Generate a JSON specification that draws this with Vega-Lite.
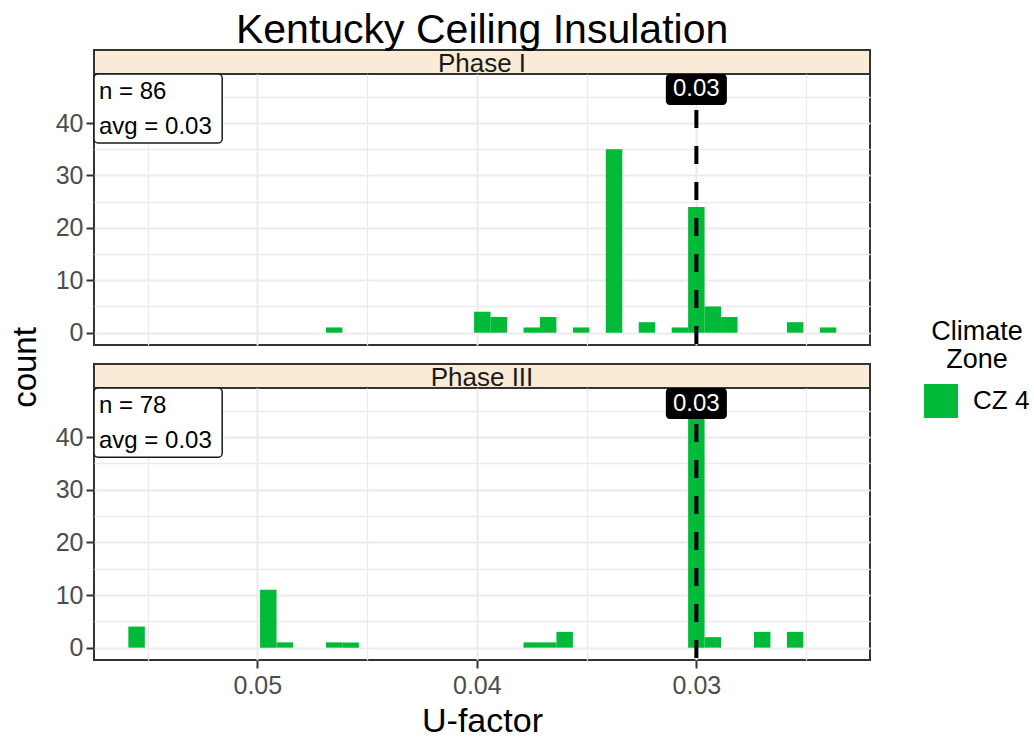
{
  "$schema": "https://vega.github.io/schema/vega-lite/v6.json",
  "padding": {"left": 8, "top": 10, "right": 0, "bottom": 0},
  "background": "white",
  "title": {"text": "Kentucky Ceiling Insulation", "fontSize": 41, "fontWeight": "normal", "font": "Liberation Sans", "color": "black", "anchor": "middle", "offset": -3, "dx": -37},
  "bounds": "flush",
  "spacing": 0,
  "datasets": {
    "bins": [
      {"phase": "Phase I", "zone": "CZ 4", "lo": 0.046125, "hi": 0.046875, "count": 1},
      {"phase": "Phase I", "zone": "CZ 4", "lo": 0.039375, "hi": 0.040125, "count": 4},
      {"phase": "Phase I", "zone": "CZ 4", "lo": 0.038625, "hi": 0.039375, "count": 3},
      {"phase": "Phase I", "zone": "CZ 4", "lo": 0.037125, "hi": 0.037875, "count": 1},
      {"phase": "Phase I", "zone": "CZ 4", "lo": 0.036375, "hi": 0.037125, "count": 3},
      {"phase": "Phase I", "zone": "CZ 4", "lo": 0.034875, "hi": 0.035625, "count": 1},
      {"phase": "Phase I", "zone": "CZ 4", "lo": 0.033375, "hi": 0.034125, "count": 35},
      {"phase": "Phase I", "zone": "CZ 4", "lo": 0.031875, "hi": 0.032625, "count": 2},
      {"phase": "Phase I", "zone": "CZ 4", "lo": 0.030375, "hi": 0.031125, "count": 1},
      {"phase": "Phase I", "zone": "CZ 4", "lo": 0.029625, "hi": 0.030375, "count": 24},
      {"phase": "Phase I", "zone": "CZ 4", "lo": 0.028875, "hi": 0.029625, "count": 5},
      {"phase": "Phase I", "zone": "CZ 4", "lo": 0.028125, "hi": 0.028875, "count": 3},
      {"phase": "Phase I", "zone": "CZ 4", "lo": 0.025125, "hi": 0.025875, "count": 2},
      {"phase": "Phase I", "zone": "CZ 4", "lo": 0.023625, "hi": 0.024375, "count": 1},
      {"phase": "Phase III", "zone": "CZ 4", "lo": 0.055125, "hi": 0.055875, "count": 4},
      {"phase": "Phase III", "zone": "CZ 4", "lo": 0.049125, "hi": 0.049875, "count": 11},
      {"phase": "Phase III", "zone": "CZ 4", "lo": 0.048375, "hi": 0.049125, "count": 1},
      {"phase": "Phase III", "zone": "CZ 4", "lo": 0.046125, "hi": 0.046875, "count": 1},
      {"phase": "Phase III", "zone": "CZ 4", "lo": 0.045375, "hi": 0.046125, "count": 1},
      {"phase": "Phase III", "zone": "CZ 4", "lo": 0.037125, "hi": 0.037875, "count": 1},
      {"phase": "Phase III", "zone": "CZ 4", "lo": 0.036375, "hi": 0.037125, "count": 1},
      {"phase": "Phase III", "zone": "CZ 4", "lo": 0.035625, "hi": 0.036375, "count": 3},
      {"phase": "Phase III", "zone": "CZ 4", "lo": 0.029625, "hi": 0.030375, "count": 47},
      {"phase": "Phase III", "zone": "CZ 4", "lo": 0.028875, "hi": 0.029625, "count": 2},
      {"phase": "Phase III", "zone": "CZ 4", "lo": 0.026625, "hi": 0.027375, "count": 3},
      {"phase": "Phase III", "zone": "CZ 4", "lo": 0.025125, "hi": 0.025875, "count": 3}
    ],
    "stats": [
      {"phase": "Phase I", "n": 86, "avg": 0.0327, "code": 0.03, "label": "n = 86\navg = 0.03"},
      {"phase": "Phase III", "n": 78, "avg": 0.0348, "code": 0.03, "label": "n = 78\navg = 0.03"}
    ]
  },
  "vconcat": [
    {
      "width": 776, "height": 24,
      "view": {"fill": "#FAEBD7", "stroke": "#333333", "strokeWidth": 2},
      "data": {"name": "stats"},
      "transform": [{"filter": "datum.phase === 'Phase I'"}],
      "mark": {"type": "text", "fontSize": 26, "font": "Liberation Sans", "color": "#1A1A1A", "baseline": "alphabetic", "dy": 10},
      "encoding": {"text": {"field": "phase"}}
    },
    {
      "width": 776, "height": 271,
      "view": {"stroke": "#333333", "strokeWidth": 2},
      "resolve": {"axis": {"x": "independent", "y": "independent"}},
      "layer": [
        {
          "data": {"name": "bins"},
          "transform": [{"filter": "datum.phase === 'Phase I'"}],
          "mark": {"type": "rect", "color": "#00BA38"},
          "encoding": {
            "x": {"field": "lo", "type": "quantitative", "scale": {"domain": [0.02209, 0.05744], "reverse": true, "nice": false, "zero": false},
                  "axis": {"values": [0.05, 0.04, 0.03], "grid": true, "gridColor": "#EBEBEB", "gridWidth": 2, "labels": false, "ticks": false, "domain": false, "title": null}},
            "x2": {"field": "hi"},
            "y": {"field": "count", "type": "quantitative", "scale": {"domain": [-2.35, 49.35], "nice": false, "zero": false},
                  "axis": {"values": [0, 10, 20, 30, 40], "grid": true, "gridColor": "#EBEBEB", "gridWidth": 2, "domain": false, "tickColor": "#333333", "tickWidth": 2, "tickSize": 8, "labelFontSize": 25, "labelColor": "#4D4D4D", "labelPadding": 3, "title": "count", "titleY": 293, "titleFontSize": 33, "titleFontWeight": "normal", "titleColor": "black", "titlePadding": 13}},
            "y2": {"datum": 0},
            "color": {"field": "zone", "type": "nominal", "scale": {"domain": ["CZ 4"], "range": ["#00BA38"]},
                      "legend": {"title": ["Climate", "Zone"], "orient": "none", "legendX": 830, "legendY": 269, "symbolType": "square", "symbolSize": 1156, "symbolStrokeWidth": 0, "symbolOpacity": 1, "labelFontSize": 26, "labelColor": "black", "titleFontSize": 27, "titleFontWeight": "normal", "titleColor": "black", "titleAlign": "center", "titleAnchor": "middle", "titleLineHeight": 28, "titlePadding": 10, "labelOffset": 15}}
          }
        },
        {
          "data": {"name": "stats"},
          "transform": [{"filter": "datum.phase === 'Phase I'"}],
          "mark": {"type": "rule", "strokeDash": [18, 18], "strokeWidth": 4, "color": "black"},
          "encoding": {
            "x": {"field": "code", "type": "quantitative", "scale": {"domain": [0.02209, 0.05744], "reverse": true, "nice": false, "zero": false},
                  "axis": {"orient": "top", "values": [0.055, 0.045, 0.035, 0.025], "grid": true, "gridColor": "#EBEBEB", "gridWidth": 1.3, "labels": false, "ticks": false, "domain": false, "title": null}}
          }
        },
        {
          "data": {"name": "stats"},
          "transform": [{"filter": "datum.phase === 'Phase I'"}],
          "mark": {"type": "rect", "fill": "white", "stroke": "#1A1A1A", "strokeWidth": 1.5, "cornerRadius": 4},
          "encoding": {
            "x": {"datum": 0.05744, "type": "quantitative", "scale": {"domain": [0.02209, 0.05744], "reverse": true, "nice": false, "zero": false}, "axis": null},
            "x2": {"datum": 0.0516},
            "y": {"datum": 49.35, "type": "quantitative", "scale": {"domain": [-2.35, 49.35], "nice": false, "zero": false},
                  "axis": {"orient": "right", "values": [5, 15, 25, 35, 45], "grid": true, "gridColor": "#EBEBEB", "gridWidth": 1.3, "labels": false, "ticks": false, "domain": false, "title": null}},
            "y2": {"datum": 36.2}
          }
        },
        {
          "data": {"name": "stats"},
          "transform": [{"filter": "datum.phase === 'Phase I'"}],
          "mark": {"type": "text", "align": "left", "baseline": "top", "dx": 5, "dy": 6, "fontSize": 24, "lineHeight": 35, "lineBreak": "\n", "font": "Liberation Sans", "color": "black"},
          "encoding": {
            "x": {"datum": 0.05744, "type": "quantitative", "axis": null},
            "y": {"datum": 49.35, "type": "quantitative", "axis": null},
            "text": {"field": "label"}
          }
        },
        {
          "data": {"name": "stats"},
          "transform": [{"filter": "datum.phase === 'Phase I'"}],
          "mark": {"type": "rect", "fill": "black", "cornerRadius": 4},
          "encoding": {
            "x": {"datum": 0.03139, "type": "quantitative", "axis": null},
            "x2": {"datum": 0.02861},
            "y": {"datum": 49.35, "type": "quantitative", "axis": null},
            "y2": {"datum": 43.44}
          }
        },
        {
          "data": {"name": "stats"},
          "transform": [{"filter": "datum.phase === 'Phase I'"}],
          "mark": {"type": "text", "baseline": "middle", "fontSize": 24, "font": "Liberation Sans", "color": "white"},
          "encoding": {
            "x": {"field": "code", "type": "quantitative", "axis": null},
            "y": {"datum": 46.4, "type": "quantitative", "axis": null},
            "text": {"field": "code", "type": "quantitative", "format": ".2f"}
          }
        }
      ]
    },
    {
      "width": 776, "height": 19,
      "view": {"stroke": null, "fill": null},
      "data": {"values": []},
      "mark": {"type": "text"},
      "encoding": {}
    },
    {
      "width": 776, "height": 24,
      "view": {"fill": "#FAEBD7", "stroke": "#333333", "strokeWidth": 2},
      "data": {"name": "stats"},
      "transform": [{"filter": "datum.phase === 'Phase III'"}],
      "mark": {"type": "text", "fontSize": 26, "font": "Liberation Sans", "color": "#1A1A1A", "baseline": "alphabetic", "dy": 10},
      "encoding": {"text": {"field": "phase"}}
    },
    {
      "width": 776, "height": 272,
      "view": {"stroke": "#333333", "strokeWidth": 2},
      "resolve": {"axis": {"x": "independent", "y": "independent"}},
      "layer": [
        {
          "data": {"name": "bins"},
          "transform": [{"filter": "datum.phase === 'Phase III'"}],
          "mark": {"type": "rect", "color": "#00BA38"},
          "encoding": {
            "x": {"field": "lo", "type": "quantitative", "scale": {"domain": [0.02209, 0.05744], "reverse": true, "nice": false, "zero": false},
                  "axis": {"values": [0.05, 0.04, 0.03], "format": ".2f", "grid": true, "gridColor": "#EBEBEB", "gridWidth": 2, "domain": false, "tickColor": "#333333", "tickWidth": 2, "tickSize": 8, "labelFontSize": 25, "labelColor": "#4D4D4D", "labelPadding": 5, "title": "U-factor", "titleFontSize": 34, "titleFontWeight": "normal", "titleColor": "black", "titlePadding": 6}},
            "x2": {"field": "hi"},
            "y": {"field": "count", "type": "quantitative", "scale": {"domain": [-2.35, 49.35], "nice": false, "zero": false},
                  "axis": {"values": [0, 10, 20, 30, 40], "grid": true, "gridColor": "#EBEBEB", "gridWidth": 2, "domain": false, "tickColor": "#333333", "tickWidth": 2, "tickSize": 8, "labelFontSize": 25, "labelColor": "#4D4D4D", "labelPadding": 3, "title": null}},
            "y2": {"datum": 0},
            "color": {"field": "zone", "type": "nominal", "scale": {"domain": ["CZ 4"], "range": ["#00BA38"]},
                      "legend": {"title": ["Climate", "Zone"], "orient": "none", "legendX": 830, "legendY": 269, "symbolType": "square", "symbolSize": 1156, "symbolStrokeWidth": 0, "symbolOpacity": 1, "labelFontSize": 26, "labelColor": "black", "titleFontSize": 27, "titleFontWeight": "normal", "titleColor": "black", "titleAlign": "center", "titleAnchor": "middle", "titleLineHeight": 28, "titlePadding": 10, "labelOffset": 15}}
          }
        },
        {
          "data": {"name": "stats"},
          "transform": [{"filter": "datum.phase === 'Phase III'"}],
          "mark": {"type": "rule", "strokeDash": [18, 18], "strokeWidth": 4, "color": "black"},
          "encoding": {
            "x": {"field": "code", "type": "quantitative", "scale": {"domain": [0.02209, 0.05744], "reverse": true, "nice": false, "zero": false},
                  "axis": {"orient": "top", "values": [0.055, 0.045, 0.035, 0.025], "grid": true, "gridColor": "#EBEBEB", "gridWidth": 1.3, "labels": false, "ticks": false, "domain": false, "title": null}}
          }
        },
        {
          "data": {"name": "stats"},
          "transform": [{"filter": "datum.phase === 'Phase III'"}],
          "mark": {"type": "rect", "fill": "white", "stroke": "#1A1A1A", "strokeWidth": 1.5, "cornerRadius": 4},
          "encoding": {
            "x": {"datum": 0.05744, "type": "quantitative", "scale": {"domain": [0.02209, 0.05744], "reverse": true, "nice": false, "zero": false}, "axis": null},
            "x2": {"datum": 0.0516},
            "y": {"datum": 49.35, "type": "quantitative", "scale": {"domain": [-2.35, 49.35], "nice": false, "zero": false},
                  "axis": {"orient": "right", "values": [5, 15, 25, 35, 45], "grid": true, "gridColor": "#EBEBEB", "gridWidth": 1.3, "labels": false, "ticks": false, "domain": false, "title": null}},
            "y2": {"datum": 36.2}
          }
        },
        {
          "data": {"name": "stats"},
          "transform": [{"filter": "datum.phase === 'Phase III'"}],
          "mark": {"type": "text", "align": "left", "baseline": "top", "dx": 5, "dy": 6, "fontSize": 24, "lineHeight": 35, "lineBreak": "\n", "font": "Liberation Sans", "color": "black"},
          "encoding": {
            "x": {"datum": 0.05744, "type": "quantitative", "axis": null},
            "y": {"datum": 49.35, "type": "quantitative", "axis": null},
            "text": {"field": "label"}
          }
        },
        {
          "data": {"name": "stats"},
          "transform": [{"filter": "datum.phase === 'Phase III'"}],
          "mark": {"type": "rect", "fill": "black", "cornerRadius": 4},
          "encoding": {
            "x": {"datum": 0.03139, "type": "quantitative", "axis": null},
            "x2": {"datum": 0.02861},
            "y": {"datum": 49.35, "type": "quantitative", "axis": null},
            "y2": {"datum": 43.44}
          }
        },
        {
          "data": {"name": "stats"},
          "transform": [{"filter": "datum.phase === 'Phase III'"}],
          "mark": {"type": "text", "baseline": "middle", "fontSize": 24, "font": "Liberation Sans", "color": "white"},
          "encoding": {
            "x": {"field": "code", "type": "quantitative", "axis": null},
            "y": {"datum": 46.4, "type": "quantitative", "axis": null},
            "text": {"field": "code", "type": "quantitative", "format": ".2f"}
          }
        }
      ]
    }
  ],
  "config": {
    "font": "Liberation Sans",
    "view": {"stroke": "#333333"},
    "axis": {"labelFont": "Liberation Sans", "titleFont": "Liberation Sans"},
    "legend": {"labelFont": "Liberation Sans", "titleFont": "Liberation Sans"}
  }
}
